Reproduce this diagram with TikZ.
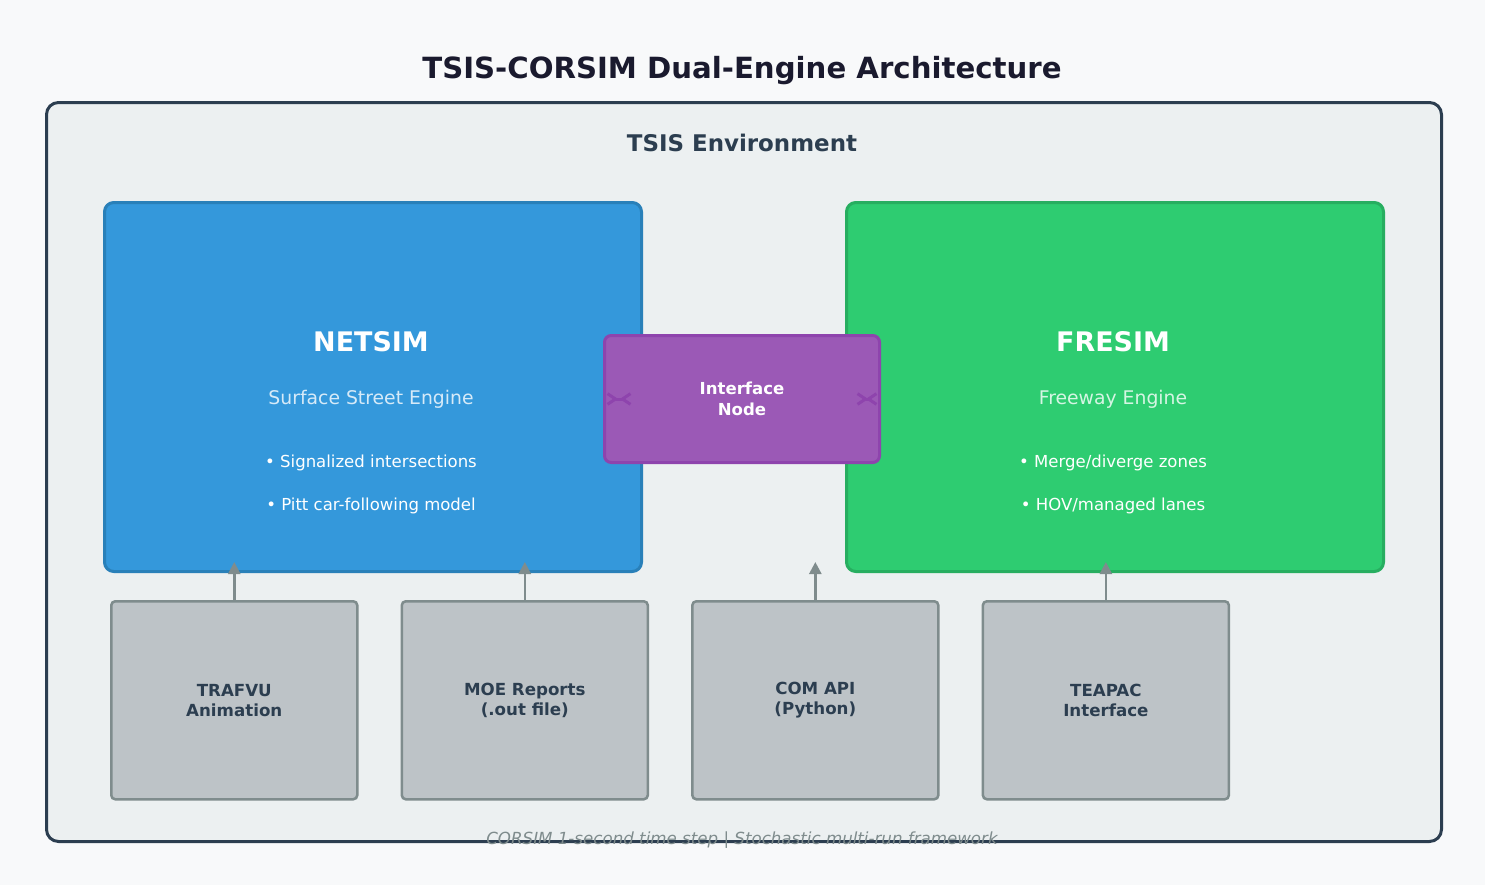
\documentclass[tikz,border=0pt]{standalone}
\usepackage{fontspec}
\setmainfont{DejaVu Sans}
\usepackage{xcolor}
\usepackage{tikz}
\usetikzlibrary{arrows.meta,positioning}

\definecolor{pagebg}{HTML}{F8F9FA}
\definecolor{envfill}{HTML}{ECF0F1}
\definecolor{navy}{HTML}{2C3E50}
\definecolor{titleink}{HTML}{1A1A2E}
\definecolor{netfill}{HTML}{3498DB}
\definecolor{netline}{HTML}{2980B9}
\definecolor{netpale}{HTML}{D6EAF8}
\definecolor{frefill}{HTML}{2ECC71}
\definecolor{freline}{HTML}{27AE60}
\definecolor{frepale}{HTML}{D5F5E3}
\definecolor{ifill}{HTML}{9B59B6}
\definecolor{iline}{HTML}{8E44AD}
\definecolor{toolfill}{HTML}{BDC3C7}
\definecolor{toolline}{HTML}{7F8C8D}

\begin{document}
\begin{tikzpicture}[
    x=0.75pt,
    y=-0.75pt,
    node distance=31.5pt,
    env/.style={
      rectangle,
      draw=navy,
      fill=envfill,
      line width=2.25pt,
      rounded corners=9pt,
      minimum width=1046.25pt,
      minimum height=554.25pt,
      anchor=north west
    },
    engine/.style={
      rectangle,
      line width=2.25pt,
      rounded corners=7pt,
      minimum width=402.75pt,
      minimum height=276.75pt,
      anchor=north west
    },
    bridge/.style={
      rectangle,
      draw=iline,
      fill=ifill,
      line width=2.25pt,
      rounded corners=5pt,
      minimum width=206.25pt,
      minimum height=95.25pt,
      text=white,
      align=center,
      font=\fontsize{12.4}{15.75}\selectfont\bfseries
    },
    tool/.style={
      rectangle,
      draw=toolline,
      fill=toolfill,
      line width=1.9pt,
      rounded corners=3pt,
      minimum width=184.5pt,
      minimum height=148.5pt,
      text=navy,
      align=center,
      font=\fontsize{12.5}{15}\selectfont\bfseries
    },
    heading/.style={text=white, font=\fontsize{20.2}{24}\selectfont\bfseries},
    subhead/.style={font=\fontsize{14.1}{17}\selectfont},
    bullet/.style={text=white, font=\fontsize{12.4}{15}\selectfont},
    link/.style={draw=iline, line width=2.25pt,
      {Straight Barb[reversed,length=6pt,width=8pt]}-{Straight Barb[reversed,length=6pt,width=8pt]}},
    feed/.style={draw=toolline, line width=1.9pt, -{Triangle[length=9pt,width=9pt]}}
]

    % Page and frame
    \fill[pagebg] (0,0) rectangle (1485,885);
    \node[text=titleink, font=\fontsize{21.9}{26}\selectfont\bfseries] (title) at (742,71)
      {TSIS-CORSIM Dual-Engine Architecture};
    \node[env] (tsis) at (45,101) {};
    \node[text=navy, font=\fontsize{17.2}{20}\selectfont\bfseries] (tsislabel) at (742,143)
      {TSIS Environment};

    % Engines
    \node[engine, draw=netline, fill=netfill] (netsim) at (103,201) {};
    \node[engine, draw=freline, fill=frefill] (fresim) at (845,201) {};

    \node[heading] (netname) at (371,342) {NETSIM};
    \node[subhead, text=netpale] (netsub) at (371,399) {Surface Street Engine};
    \node[bullet] (netb1) at (371,463) {• Signalized intersections};
    \node[bullet] (netb2) at (371,506) {• Pitt car-following model};

    \node[heading] (frename) at (1113,342) {FRESIM};
    \node[subhead, text=frepale] (fresub) at (1113,399) {Freeway Engine};
    \node[bullet] (freb1) at (1113,463) {• Merge/diverge zones};
    \node[bullet] (freb2) at (1113,506) {• HOV/managed lanes};

    % Interface between the engines
    \node[bridge] (iface) at (742,399) {Interface\\Node};
    \draw[link, shorten <=2.25pt, shorten >=8.25pt] (iface.west) -- (netsim.east |- iface.west);
    \draw[link, shorten <=2.25pt, shorten >=8.25pt] (iface.east) -- (fresim.west |- iface.east);

    % Tools along the bottom
    \node[tool, anchor=north west] (trafvu) at (110,600) {TRAFVU\\Animation};
    \node[tool, right=of trafvu] (moe) {MOE Reports\\(.out file)};
    \node[tool, right=of moe] (comapi) {COM API\\(Python)};
    \node[tool, right=of comapi] (teapac) {TEAPAC\\Interface};

    \coordinate (tipline) at (0,562);
    \draw[feed] (trafvu.north) -- (trafvu.north |- tipline);
    \draw[feed] (moe.north) -- (moe.north |- tipline);
    \draw[feed] (comapi.north) -- (comapi.north |- tipline);
    \draw[feed] (teapac.north) -- (teapac.north |- tipline);

    % Footer
    \node[text=toolline, font=\fontsize{12.5}{15}\selectfont\itshape] (footer) at (742,840)
      {CORSIM 1-second time step | Stochastic multi-run framework};

\end{tikzpicture}
\end{document}
